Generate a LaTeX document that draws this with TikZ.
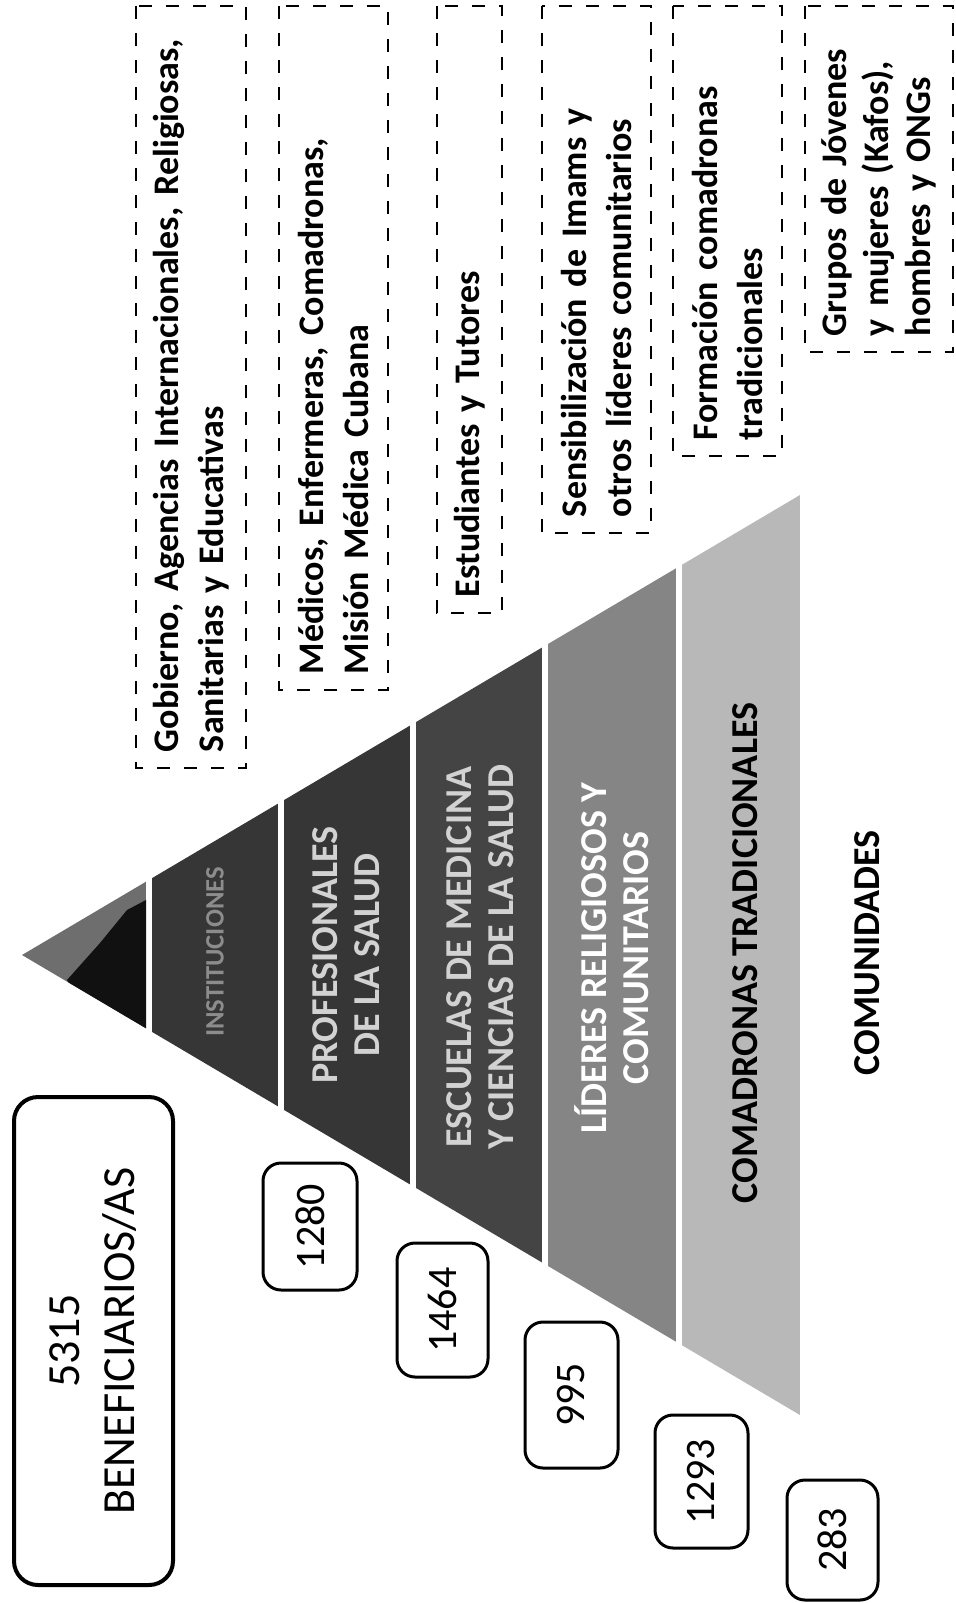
\documentclass[tikz,border=0pt]{standalone}
\usepackage{fontspec}
\setmainfont{Carlito}
\usepackage{xcolor}
\definecolor{punta}{HTML}{111111}
\definecolor{puntaGris}{HTML}{6E6E6E}
\definecolor{nivelA}{HTML}{363636}
\definecolor{nivelB}{HTML}{363636}
\definecolor{nivelC}{HTML}{444444}
\definecolor{nivelD}{HTML}{858585}
\definecolor{nivelE}{HTML}{B8B8B8}
\definecolor{letraA}{HTML}{8C8C8C}
\definecolor{letraB}{HTML}{D2D2D2}

\begin{document}
\begin{tikzpicture}[x=0.5pt,y=-0.5pt,
		caja/.style={draw,line width=1pt,dash pattern=on 6.5pt off 7pt,rotate=90,align=left,
			inner xsep=8pt,inner ysep=0pt,font=\bfseries\fontsize{18}{22.5}\selectfont},
		cifra/.style={draw,line width=1.5pt,rounded corners=9pt,rotate=90,inner sep=0pt,
			font=\fontsize{21}{25}\selectfont},
		nivel/.style={rotate=90,align=center,font=\bfseries\fontsize{19}{21}\selectfont}]
	\useasboundingbox (0,0) rectangle (955,1603);

	\coordinate (apice) at (22,955);
	\coordinate (baseA) at (800,495);
	\coordinate (baseB) at (800,1415);
	\begin{scope}
		\clip (apice) -- (baseA) -- (baseB) -- cycle;
		\fill[puntaGris] (0,400) rectangle (146,1500);
		\fill[punta] (67,980) -- (100,943) -- (127,910) -- (146,900) -- (146,1100) -- cycle;
		\fill[nivelA] (152,400) rectangle (278,1500);
		\fill[nivelB] (284,400) rectangle (410,1500);
		\fill[nivelC] (416,400) rectangle (542,1500);
		\fill[nivelD] (548,400) rectangle (676,1500);
		\fill[nivelE] (682,400) rectangle (800,1500);
	\end{scope}

	\node[nivel,text=letraA,font=\bfseries\fontsize{13.3}{15}\selectfont] (instituciones) at (215,952) {INSTITUCIONES};
	\node[nivel,text=letraB] (profesionales) at (346,955) {PROFESIONALES\\DE LA SALUD};
	\node[nivel,text=letraB] (escuelas) at (480,957) {ESCUELAS DE MEDICINA\\Y CIENCIAS DE LA SALUD};
	\node[nivel,text=white] (lideres) at (612,958) {LÍDERES RELIGIOSOS Y\\COMUNITARIOS};
	\node[nivel,text=black] (comadronas) at (745,953) {COMADRONAS TRADICIONALES};
	\node[nivel,text=black] (comunidades) at (867,953) {COMUNIDADES};

	\node[caja,text width=365pt,minimum height=55pt] (gobierno) at (191,387)
		{Gobierno, Agencias Internacionales, Religiosas,\\Sanitarias y Educativas};
	\node[caja,text width=326pt,minimum height=54.5pt] (medicos) at (333.5,348)
		{Médicos, Enfermeras, Comadronas,\\Misión Médica Cubana};
	\node[caja,text width=287.5pt,minimum height=32.5pt] (estudiantes) at (469.5,309.5)
		{Estudiantes y Tutores};
	\node[caja,text width=247.5pt,minimum height=54.5pt] (sensibilizacion) at (596.5,269.5)
		{Sensibilización de Imams y\\otros líderes comunitarios};
	\node[caja,text width=209pt,minimum height=54.5pt] (formacion) at (727.5,231)
		{Formación comadronas\\tradicionales};
	\node[caja,text width=157pt,minimum height=74pt,font=\bfseries\fontsize{18}{21}\selectfont] (grupos) at (879,179)
		{Grupos de Jóvenes\\y mujeres (Kafos),\\hombres y ONGs};

	\node[draw,line width=2pt,rounded corners=12pt,rotate=90,align=center,minimum width=244pt,
		minimum height=79.5pt,font=\fontsize{23}{27.5}\selectfont] (total) at (93.5,1341)
		{5315\\BENEFICIARIOS/AS};
	\node[cifra,minimum width=63.5pt,minimum height=47pt] (n1280) at (310,1226.5) {1280};
	\node[cifra,minimum width=67pt,minimum height=45.5pt] (n1464) at (442.5,1310) {1464};
	\node[cifra,minimum width=73pt,minimum height=46.5pt] (n995) at (571.5,1395) {995};
	\node[cifra,minimum width=66.5pt,minimum height=46.5pt] (n1293) at (701.5,1481.5) {1293};
	\node[cifra,minimum width=60pt,minimum height=45.5pt] (n283) at (832.5,1540) {283};
\end{tikzpicture}
\end{document}
